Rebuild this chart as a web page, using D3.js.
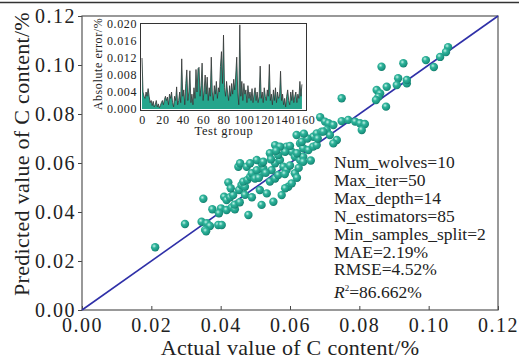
<!DOCTYPE html>
<html>
<head>
<meta charset="utf-8">
<script src="https://cdn.jsdelivr.net/npm/d3@7"></script>
<style>
 body{margin:0;background:#fff;}
 svg{display:block;}
 svg text{font-family:"Liberation Serif","Times New Roman",serif;}
 .main text{font-size:20px;letter-spacing:1.5px;fill:#222;}
 .inset text{font-size:12px;letter-spacing:0.6px;fill:#222;}
 .domain{display:none;}
</style>
</head>
<body>
<div id="chart"></div>
<script>
// scatter: actual vs predicted C content (%)
var actual = [0.0297,0.0350,0.0345,0.0360,0.0369,0.0355,0.0376,0.0393,0.0403,0.0401,
 0.0410,0.0417,0.0427,0.0436,0.0422,0.0429,0.0417,0.0432,0.0441,0.0453,
 0.0460,0.0470,0.0465,0.0477,0.0485,0.0480,0.0451,0.0456,0.0475,0.0490,
 0.0499,0.0513,0.0504,0.0523,0.0518,0.0504,0.0513,0.0533,0.0552,0.0518,
 0.0542,0.0557,0.0566,0.0547,0.0557,0.0571,0.0566,0.0542,0.0557,0.0581,
 0.0590,0.0595,0.0586,0.0605,0.0614,0.0576,0.0590,0.0605,0.0619,0.0629,
 0.0638,0.0614,0.0629,0.0638,0.0667,0.0677,0.0691,0.0211,0.0358,0.0638,
 0.0864,0.0927,0.0850,0.0860,0.0855,0.0848,0.0879,0.0912,0.0908,0.0937,
 0.0877,0.0749,0.0687,0.0701,0.0711,0.0725,0.0749,0.0768,0.0788,0.0802,
 0.0816,0.0807,0.0706,0.0735,0.0715,0.0725,0.0937,0.0696,0.0653,0.0667,
 0.0677,0.0586,0.0571,0.0634,0.0485,0.0523,0.0992,0.1015,0.1033,0.1056,
 0.1050,0.0545,0.0600,0.0620,0.0650,0.0660,0.0585,0.0530,0.0625,0.0680,
 0.0640,0.0600,0.0560,0.0510,0.0470,0.0440,0.0395,0.0455,0.0490,0.0620];
var predicted = [0.0351,0.0454,0.0360,0.0354,0.0343,0.0327,0.0411,0.0347,0.0347,0.0415,
 0.0462,0.0449,0.0460,0.0469,0.0521,0.0497,0.0408,0.0419,0.0411,0.0490,
 0.0510,0.0503,0.0524,0.0531,0.0544,0.0388,0.0585,0.0599,0.0585,0.0558,
 0.0537,0.0551,0.0571,0.0578,0.0599,0.0612,0.0490,0.0476,0.0442,0.0429,
 0.0524,0.0537,0.0551,0.0571,0.0599,0.0612,0.0633,0.0640,0.0673,0.0585,
 0.0571,0.0503,0.0497,0.0517,0.0558,0.0469,0.0667,0.0646,0.0714,0.0680,
 0.0660,0.0626,0.0612,0.0626,0.0707,0.0721,0.0728,0.0256,0.0321,0.0605,
 0.0993,0.1007,0.0898,0.0884,0.0870,0.0857,0.0911,0.0946,0.0918,0.0925,
 0.0830,0.0864,0.0787,0.0769,0.0762,0.0755,0.0771,0.0776,0.0769,0.0762,
 0.0759,0.0735,0.0735,0.0694,0.0714,0.0680,0.0939,0.0728,0.0653,0.0667,
 0.0673,0.0646,0.0667,0.0687,0.0599,0.0605,0.1020,0.0992,0.1033,0.1073,
 0.1053,0.0615,0.0590,0.0640,0.0700,0.0610,0.0555,0.0560,0.0580,0.0700,
 0.0720,0.0670,0.0650,0.0540,0.0470,0.0430,0.0395,0.0440,0.0460,0.0540];

// inset: absolute error per test group
var absError = [0.0120,0.0040,0.0030,0.0025,0.0040,0.0030,0.0048,0.0030,0.0015,0.0020,
 0.0008,0.0018,0.0005,0.0010,0.0020,0.0005,0.0012,0.0003,0.0008,0.0015,
 0.0020,0.0010,0.0022,0.0030,0.0020,0.0028,0.0010,0.0035,0.0025,0.0040,
 0.0015,0.0005,0.0030,0.0020,0.0052,0.0010,0.0020,0.0040,0.0015,0.0118,
 0.0030,0.0045,0.0010,0.0060,0.0092,0.0020,0.0040,0.0090,0.0015,0.0035,
 0.0010,0.0050,0.0025,0.0093,0.0040,0.0095,0.0098,0.0030,0.0055,0.0108,
 0.0020,0.0045,0.0080,0.0035,0.0075,0.0020,0.0050,0.0030,0.0122,0.0040,
 0.0020,0.0055,0.0035,0.0065,0.0025,0.0050,0.0040,0.0100,0.0135,0.0060,
 0.0174,0.0050,0.0030,0.0065,0.0040,0.0020,0.0055,0.0030,0.0060,0.0035,
 0.0070,0.0045,0.0080,0.0122,0.0040,0.0010,0.0198,0.0030,0.0065,0.0020,
 0.0060,0.0035,0.0045,0.0015,0.0055,0.0025,0.0040,0.0020,0.0048,0.0015,
 0.0035,0.0050,0.0020,0.0040,0.0015,0.0030,0.0101,0.0025,0.0040,0.0015,
 0.0050,0.0030,0.0020,0.0045,0.0030,0.0105,0.0020,0.0035,0.0010,0.0045,
 0.0020,0.0050,0.0015,0.0040,0.0025,0.0030,0.0089,0.0020,0.0035,0.0010,
 0.0025,0.0005,0.0030,0.0045,0.0020,0.0010,0.0040,0.0020,0.0045,0.0015,
 0.0030,0.0040,0.0015,0.0035,0.0025,0.0065,0.0030,0.0058];

var mainTicks = [0,0.02,0.04,0.06,0.08,0.10,0.12];
var insetYTicks = [0,0.004,0.008,0.012,0.016,0.020];
var insetXTicks = [0,20,40,60,80,100,120,140,160];
var statLines = ["Num_wolves=10","Max_iter=50","Max_depth=14","N_estimators=85",
 "Min_samples_split=2","MAE=2.19%","RMSE=4.52%"];

var W = 519, H = 360;
var svg = d3.select("#chart").append("svg").attr("width",W).attr("height",H);

var defs = svg.append("defs");		//shaded ball look for the dots
var g = defs.append("radialGradient").attr("id","ball")
 .attr("cx","0.38").attr("cy","0.35").attr("r","0.7");
g.append("stop").attr("offset","0%").attr("stop-color","#c4f2e8");
g.append("stop").attr("offset","35%").attr("stop-color","#2fb39a");
g.append("stop").attr("offset","80%").attr("stop-color","#199480");
g.append("stop").attr("offset","100%").attr("stop-color","#10705f");

svg.append("line").attr("x1",0).attr("x2",W).attr("y1",2.5).attr("y2",2.5)
 .attr("stroke","#333").attr("stroke-width",1.5);

var x = d3.scaleLinear().domain([0,0.12]).range([82,498]);
var y = d3.scaleLinear().domain([0,0.12]).range([310,16]);

var main = svg.append("g").attr("class","main");

main.append("g").attr("transform","translate(0,310)")
 .call(d3.axisBottom(x).tickValues(mainTicks).tickFormat(d3.format(".2f"))
  .tickSizeInner(-4).tickSizeOuter(0).tickPadding(8))
 .call(a => a.attr("font-family",null).attr("font-size",null))
 .call(a => a.selectAll("line").attr("stroke","#444"));

main.append("g").attr("transform","translate(82,0)")
 .call(d3.axisLeft(y).tickValues(mainTicks).tickFormat(d3.format(".2f"))
  .tickSize(4).tickSizeOuter(0).tickPadding(2))
 .call(a => a.attr("font-family",null).attr("font-size",null))
 .call(a => a.selectAll("line").attr("stroke","#444"));

main.append("rect").attr("x",82).attr("y",16).attr("width",416).attr("height",294)
 .attr("fill","none").attr("stroke","#555").attr("stroke-width",1.2);

// 1:1 line
main.append("line").attr("x1",x(0)).attr("y1",y(0)).attr("x2",x(0.12)).attr("y2",y(0.12))
 .attr("stroke","#2f30a8").attr("stroke-width",1.6);

main.selectAll("circle.pt").data(actual).enter().append("circle")
 .attr("class","pt")
 .attr("cx",d => x(d))
 .attr("cy",(d,i) => y(predicted[i]))
 .attr("r",4.2)
 .attr("fill","url(#ball)");

main.append("text").attr("x",290).attr("y",355).attr("text-anchor","middle")
 .style("font-size","22px").style("letter-spacing","0.3px")
 .text("Actual value of C content/%");
main.append("text").attr("transform","translate(29,154) rotate(-90)")
 .attr("text-anchor","middle").style("font-size","22px").style("letter-spacing","0.3px")
 .text("Predicted value of C content/%");

var st = main.append("g");
statLines.forEach(function(s,i){
 st.append("text").attr("x",334).attr("y",168 + i*17.9)
  .style("font-size","17.5px").style("letter-spacing","0px").text(s);
});
var r2 = st.append("text").attr("x",334).attr("y",298)
 .style("font-size","17.5px").style("letter-spacing","0px");
r2.append("tspan").style("font-style","italic").text("R");
r2.append("tspan").attr("dy",-7).style("font-size","9px").text("2");
r2.append("tspan").attr("dy",7).text("=86.662%");

// inset chart
var inset = svg.append("g").attr("class","inset");
var ix = d3.scaleLinear().domain([0,160]).range([142,305]);
var iy = d3.scaleLinear().domain([0,0.020]).range([109,24]);

inset.append("rect").attr("x",140.5).attr("y",23.5).attr("width",166).attr("height",87)
 .attr("fill","#fff");

var area = d3.area().x((d,i) => ix(i)).y0(iy(0)).y1(d => iy(d));
var line = d3.line().x((d,i) => ix(i)).y(d => iy(d));
inset.append("path").datum(absError).attr("d",area).attr("fill","#25a58c");
inset.append("path").datum(absError).attr("d",line).attr("fill","none")
 .attr("stroke","#333").attr("stroke-width",0.8);

inset.append("rect").attr("x",140.5).attr("y",23.5).attr("width",166).attr("height",87)
 .attr("fill","none").attr("stroke","#333").attr("stroke-width",1);

inset.append("g").attr("transform","translate(0,110)")
 .call(d3.axisBottom(ix).tickValues(insetXTicks).tickSize(0).tickPadding(5))
 .call(a => a.attr("font-family",null).attr("font-size",null));
inset.append("g").attr("transform","translate(140,0)")
 .call(d3.axisLeft(iy).tickValues(insetYTicks).tickFormat(d3.format(".3f"))
  .tickSize(0).tickPadding(3))
 .call(a => a.attr("font-family",null).attr("font-size",null));

inset.append("text").attr("x",224).attr("y",135).attr("text-anchor","middle")
 .style("font-size","12.5px").text("Test group");
inset.append("text").attr("transform","translate(102,64) rotate(-90)")
 .attr("text-anchor","middle").style("font-size","12px").text("Absolute error/%");
</script>
</body>
</html>
